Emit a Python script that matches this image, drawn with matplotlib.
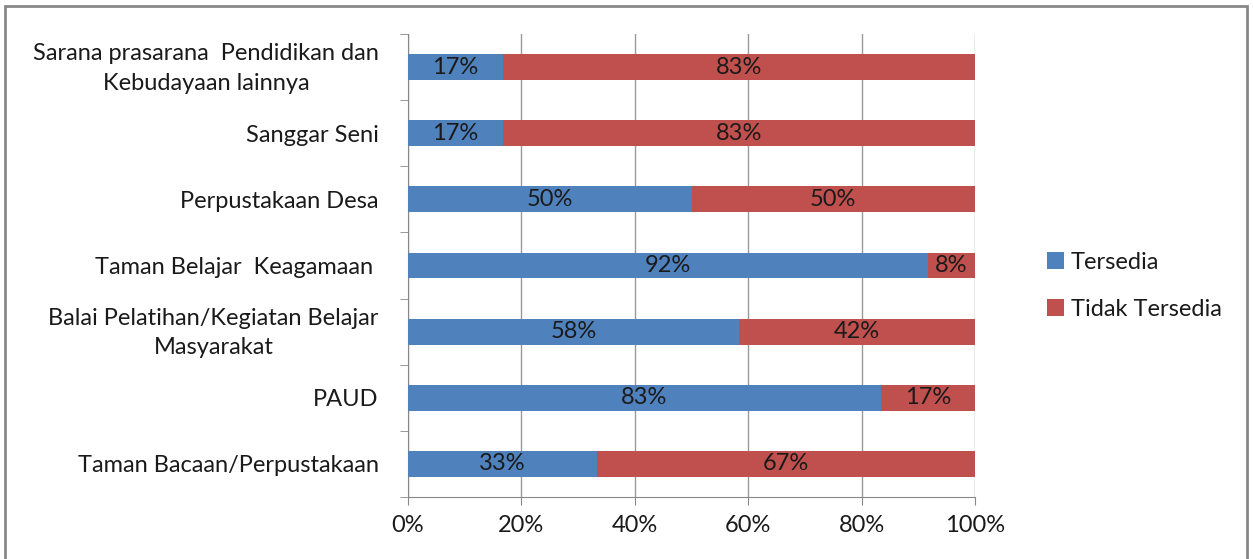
import numpy as np
import matplotlib.pyplot as plt
from matplotlib.patches import Rectangle
from matplotlib.transforms import ScaledTranslation

plt.rcParams['font.family'] = ['Lato', 'DejaVu Sans']

categories = ['Taman Bacaan/Perpustakaan', 'PAUD',
              'Balai Pelatihan/Kegiatan Belajar\nMasyarakat',
              'Taman Belajar  Keagamaan ', 'Perpustakaan Desa', 'Sanggar Seni',
              'Sarana prasarana  Pendidikan dan\nKebudayaan lainnya']
# counts out of 12 respondents
tersedia = np.array([4, 10, 7, 11, 6, 2, 2])
total = 12
tidak = total - tersedia
series_names = ['Tersedia', 'Tidak Tersedia']
colors = ['#4f81bd', '#c0504d']

p_ters = tersedia / total
p_tidak = tidak / total

fs = 17
fig = plt.figure(figsize=(12.53, 5.59), dpi=100)
ax = fig.add_axes([408/1253, 1 - 497/559, 567/1253, 463/559])

y = np.arange(len(categories))
ax.barh(y, p_ters, height=0.39, color=colors[0], label=series_names[0], zorder=3)
ax.barh(y, p_tidak, left=p_ters, height=0.39, color=colors[1], label=series_names[1], zorder=3)

for i in range(len(categories)):
    ax.text(p_ters[i] / 2, y[i], f'{round(p_ters[i]*100)}%', ha='center', va='center',
            fontsize=fs, color='#1a1a1a', zorder=4)
    ax.text(p_ters[i] + p_tidak[i] / 2, y[i], f'{round(p_tidak[i]*100)}%', ha='center',
            va='center', fontsize=fs, color='#1a1a1a', zorder=4)

ax.set_xlim(0, 1)
ax.set_ylim(-0.5, len(categories) - 0.5)
ax.set_xticks(np.linspace(0, 1, 6))
ax.set_xticklabels([f'{int(v)}%' for v in np.linspace(0, 100, 6)], fontsize=fs, color='#1a1a1a')
ax.set_yticks(y)
ax.set_yticklabels(categories, fontsize=fs, color='#1a1a1a', ha='right',
                   multialignment='center', linespacing=1.5)
ax.tick_params(axis='y', length=0, pad=21)
ax.set_yticks(np.arange(-0.5, len(categories)), minor=True)
ax.tick_params(axis='y', which='minor', length=6, color='#888888')
ax.tick_params(axis='x', length=6, color='#888888', pad=7)
ax.grid(axis='x', color='#999999', linewidth=1, zorder=0)

# two-line labels sit a bit higher in the original
for lab in ax.get_yticklabels():
    if '\n' in lab.get_text():
        lab.set_transform(lab.get_transform() + ScaledTranslation(0, 5/100, fig.dpi_scale_trans))

for s in ['top', 'right']:
    ax.spines[s].set_visible(False)
for s in ['left', 'bottom']:
    ax.spines[s].set_color('#888888')

ax.legend(loc='center left', bbox_to_anchor=(1026/1253, 1 - 286/559), bbox_transform=fig.transFigure,
          frameon=False, fontsize=fs, handlelength=0.7, handleheight=0.7, handletextpad=0.3,
          labelspacing=1.1, labelcolor='#1a1a1a')

fig.patches.append(Rectangle((5/1253, -0.1), 1242/1253, 1.1 - 6/559, transform=fig.transFigure,
                             fill=False, edgecolor='#888888', linewidth=2))

fig.savefig('out.png', dpi=100)
